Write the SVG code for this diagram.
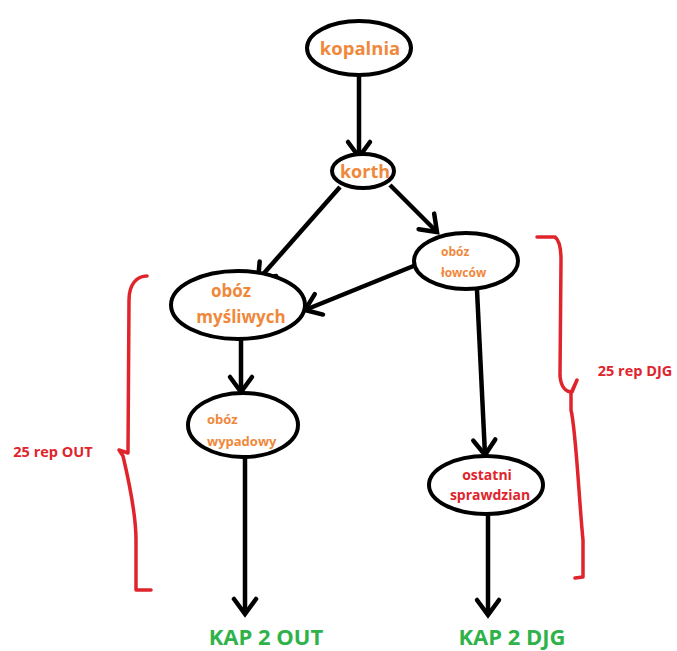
<svg xmlns="http://www.w3.org/2000/svg" width="677" height="651" viewBox="0 0 677 651">
<style>
.node{fill:#fff;stroke:#000;stroke-width:4}
.edge{stroke:#000;stroke-width:4.5;fill:none;marker-end:url(#ah)}
.t{font-family:"Open Sans","Liberation Sans",sans-serif;font-weight:bold;text-anchor:middle}
.or{fill:#f0883c}
.rd{fill:#e0242c}
.gr{fill:#2fb24a}
.brace{stroke:#e0242c;stroke-width:3.5;fill:none;stroke-linejoin:round;stroke-linecap:round}
</style>
<defs>
<marker id="ah" markerUnits="userSpaceOnUse" markerWidth="32" markerHeight="32" viewBox="-22 -16 26 32" refX="0" refY="0" orient="auto">
<path d="M-15,-11 L0,0 L-15,11" stroke="#000" stroke-width="4.5" fill="none" stroke-linecap="round"/>
</marker>
</defs>
<rect width="677" height="651" fill="#fff"/>
<g id="connectors">
<line class="edge" x1="359" y1="76" x2="359" y2="157"/>
<line class="edge" x1="390" y1="185" x2="437" y2="232"/>
<line class="edge" x1="340" y1="187" x2="258" y2="280"/>
<line class="edge" x1="416" y1="265" x2="305" y2="310"/>
<line class="edge" x1="241" y1="340" x2="241" y2="392"/>
<line class="edge" x1="245" y1="458" x2="245" y2="614"/>
<line class="edge" x1="477" y1="290" x2="485" y2="455"/>
<line class="edge" x1="488" y1="514" x2="488" y2="615"/>
</g>
<g id="kopalnia">
<ellipse class="node" cx="359" cy="48" rx="52" ry="27"/>
<text class="t or" x="360" y="55" font-size="18.5">kopalnia</text>
</g>
<g id="korth">
<ellipse class="node" cx="363" cy="171" rx="31" ry="17"/>
<text class="t or" x="365" y="178" font-size="18">korth</text>
</g>
<g id="oboz-lowcow">
<ellipse class="node" cx="466" cy="261" rx="52" ry="28"/>
<text class="t or" x="441" y="256" font-size="12" style="text-anchor:start">obóz</text>
<text class="t or" x="441" y="277" font-size="12" style="text-anchor:start">łowców</text>
</g>
<g id="oboz-mysliwych">
<ellipse class="node" cx="238" cy="305" rx="67" ry="34"/>
<text class="t or" x="231" y="297" font-size="17">obóz</text>
<text class="t or" x="241" y="323" font-size="17">myśliwych</text>
</g>
<g id="oboz-wypadowy">
<ellipse class="node" cx="243" cy="425" rx="55" ry="32"/>
<text class="t or" x="207" y="424" font-size="13" style="text-anchor:start">obóz</text>
<text class="t or" x="207" y="446" font-size="13" style="text-anchor:start">wypadowy</text>
</g>
<g id="ostatni-sprawdzian">
<ellipse class="node" cx="486" cy="485" rx="57" ry="29"/>
<text class="t rd" x="487" y="480" font-size="14">ostatni</text>
<text class="t rd" x="490" y="500" font-size="14">sprawdzian</text>
</g>
<g id="kap2out">
<text class="t gr" x="266" y="645" font-size="22">KAP 2 OUT</text>
</g>
<g id="kap2djg">
<text class="t gr" x="512" y="645" font-size="22">KAP 2 DJG</text>
</g>
<g id="brace-out">
<path class="brace" d="M147,276 C137,276 129,284 129,300 L128,453 L119,450 L123,456 C131,490 136,520 136,540 L136,590 L151,590"/>
<text class="t rd" x="53" y="457" font-size="14.5">25 rep OUT</text>
</g>
<g id="brace-djg">
<path class="brace" d="M537,237 L555,237 C559,240 561,248 561,260 L560,376 C561,387 566,392 572,392 L577,380 L571,393 L571,410 C576,430 579,500 583,540 L583,577 L575,578"/>
<text class="t rd" x="635" y="376" font-size="14.5">25 rep DJG</text>
</g>
</svg>
